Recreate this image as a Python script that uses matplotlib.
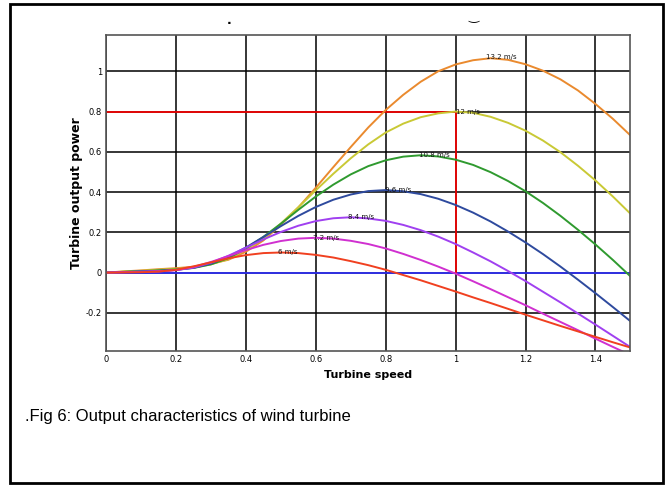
import matplotlib
matplotlib.use("Agg")
import matplotlib.pyplot as plt
from matplotlib.patches import Rectangle

# turbine speed (pu)
speed = [0, 0.05, 0.1, 0.15, 0.2, 0.25, 0.3, 0.35, 0.4, 0.45, 0.5, 0.55, 0.6, 0.65, 0.7, 0.75,
         0.8, 0.85, 0.9, 0.95, 1.0, 1.05, 1.1, 1.15, 1.2, 1.25, 1.3, 1.35, 1.4, 1.45, 1.5]

# output power (pu) for each wind speed
p_13_2 = [0, 0.006, 0.011, 0.017, 0.022, 0.029, 0.044, 0.064, 0.104, 0.160, 0.238, 0.324, 0.422, 0.524, 0.624, 0.721,
          0.808, 0.883, 0.948, 1.000, 1.034, 1.055, 1.065, 1.057, 1.035, 1.003, 0.960, 0.905, 0.838, 0.764, 0.682]
p_12_0 = [0, 0.005, 0.009, 0.014, 0.019, 0.025, 0.041, 0.067, 0.114, 0.168, 0.244, 0.325, 0.409, 0.491, 0.568, 0.637,
          0.696, 0.740, 0.772, 0.791, 0.800, 0.794, 0.774, 0.744, 0.705, 0.656, 0.598, 0.531, 0.458, 0.378, 0.293]
p_10_8 = [0, 0.004, 0.007, 0.011, 0.016, 0.023, 0.041, 0.072, 0.120, 0.178, 0.243, 0.312, 0.378, 0.437, 0.488, 0.529,
          0.558, 0.576, 0.583, 0.577, 0.561, 0.535, 0.499, 0.455, 0.404, 0.346, 0.282, 0.213, 0.140, 0.063, -0.018]
p_9_6 = [0, 0.003, 0.006, 0.009, 0.013, 0.024, 0.045, 0.079, 0.125, 0.177, 0.231, 0.282, 0.326, 0.362, 0.388, 0.405,
         0.410, 0.404, 0.390, 0.367, 0.336, 0.298, 0.254, 0.204, 0.150, 0.092, 0.030, -0.035, -0.102, -0.171, -0.241]
p_8_4 = [0, 0.002, 0.005, 0.007, 0.013, 0.025, 0.049, 0.084, 0.124, 0.165, 0.202, 0.233, 0.256, 0.270, 0.275, 0.269,
         0.257, 0.237, 0.211, 0.179, 0.142, 0.100, 0.056, 0.008, -0.042, -0.095, -0.148, -0.203, -0.258, -0.314, -0.370]
p_7_2 = [0, 0.002, 0.003, 0.006, 0.012, 0.028, 0.053, 0.082, 0.112, 0.138, 0.157, 0.169, 0.173, 0.169, 0.158, 0.142,
         0.120, 0.093, 0.063, 0.030, -0.005, -0.043, -0.082, -0.122, -0.162, -0.204, -0.245, -0.286, -0.328, -0.369, -0.409]
p_6_0 = [0, 0.001, 0.002, 0.005, 0.014, 0.031, 0.051, 0.071, 0.087, 0.097, 0.100, 0.097, 0.088, 0.075, 0.057, 0.037,
         0.014, -0.012, -0.038, -0.066, -0.094, -0.123, -0.151, -0.180, -0.209, -0.237, -0.265, -0.292, -0.319, -0.346, -0.372]

series = [p_13_2, p_12_0, p_10_8, p_9_6, p_8_4, p_7_2, p_6_0]
wind_labels = ["13.2 m/s", "12 m/s", "10.8 m/s", "9.6 m/s", "8.4 m/s", "7.2 m/s", "6 m/s"]
colors = ["#ea8a2e", "#c9c935", "#2f9a2f", "#2e4a9e", "#a040f0", "#d030d0", "#f04020"]
label_pos = [(1.13, 1.07), (1.035, 0.80), (0.94, 0.585), (0.835, 0.41), (0.73, 0.275), (0.63, 0.17), (0.52, 0.10)]

x_ticks = [0, 0.2, 0.4, 0.6, 0.8, 1.0, 1.2, 1.4]
x_ticklabels = ["0", "0.2", "0.4", "0.6", "0.8", "1", "1.2", "1.4"]
y_ticks = [-0.2, 0, 0.2, 0.4, 0.6, 0.8, 1.0]
y_ticklabels = ["-0.2", "0", "0.2", "0.4", "0.6", "0.8", "1"]

# rated point
rated_speed = 1.0
rated_power = 0.8

narrow = ["Liberation Sans Narrow", "DejaVu Sans"]

fig = plt.figure(figsize=(6.72, 4.87), dpi=100)
ax = fig.add_axes([0.158, 0.279, 0.78, 0.649])

ax.set_xlim(0, 1.5)
ax.set_ylim(-0.39, 1.18)
ax.set_xticks(x_ticks)
ax.set_xticklabels(x_ticklabels, family=narrow, fontsize=6)
ax.set_yticks(y_ticks)
ax.set_yticklabels(y_ticklabels, family=narrow, fontsize=6)
ax.tick_params(length=0, pad=3)
ax.grid(True, color="black", linewidth=1.1)
ax.set_axisbelow(True)
for s in ax.spines.values():
    s.set_color("#555555")
    s.set_linewidth(1.2)

ax.axhline(0, color="#3030ff", linewidth=1.2)
ax.plot([0, rated_speed], [rated_power, rated_power], color="red", linewidth=1.2)
ax.plot([rated_speed, rated_speed], [0, rated_power], color="red", linewidth=1.2)

for y, c, lab, pos in zip(series, colors, wind_labels, label_pos):
    ax.plot(speed, y, color=c, linewidth=1.4)
    ax.text(pos[0], pos[1], lab, fontsize=5, family=narrow, ha="center", va="center", color="#111111")

ax.set_xlabel("Turbine speed", family=narrow, fontsize=8, fontweight="bold", labelpad=4)
ax.set_ylabel("Turbine output power", fontsize=9, fontweight="bold", labelpad=2)

# remnants of the cropped title
fig.text(229 / 672, 1 - 21 / 487, ".", fontsize=9, fontweight="bold", ha="center", va="center")
fig.text(474 / 672, 1 - 17 / 487, "\u203f", fontsize=9, ha="center", va="center")

fig.text(25 / 672, 1 - 416 / 487, ".Fig 6: Output characteristics of wind turbine",
         family=["Liberation Sans", "DejaVu Sans"], fontsize=12, va="center")

fig.patches.append(Rectangle((10 / 672, 4 / 487), 653 / 672, 479 / 487, transform=fig.transFigure,
                             fill=False, edgecolor="black", linewidth=2))

fig.savefig("out.png", dpi=100)
